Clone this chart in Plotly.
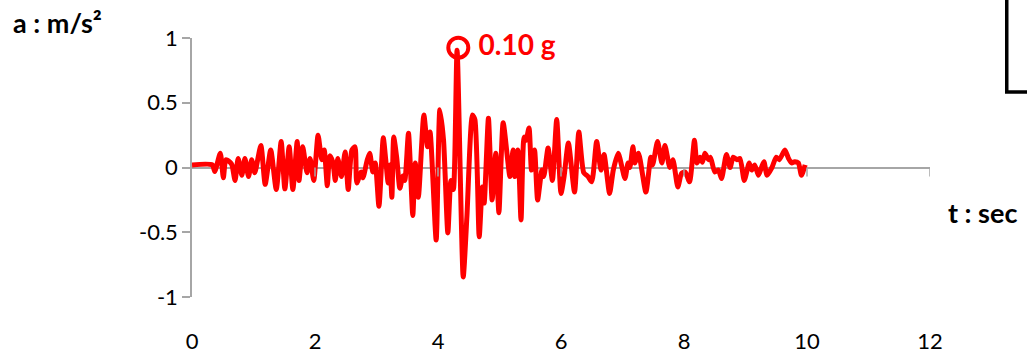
import plotly.graph_objects as go

t = [0, 0.33, 0.37, 0.46, 0.51, 0.55, 0.62, 0.65, 0.70, 0.75, 0.81, 0.86, 0.92, 0.97, 1.02,
     1.12, 1.19, 1.28, 1.37, 1.45, 1.51, 1.58, 1.64, 1.71, 1.74, 1.80, 1.87, 1.92, 1.98,
     2.05, 2.11, 2.15, 2.20, 2.24, 2.29, 2.33, 2.37, 2.43, 2.49, 2.54, 2.60, 2.65, 2.68,
     2.75, 2.78, 2.85, 2.89, 2.94, 2.98, 3.04, 3.11, 3.15, 3.19, 3.22, 3.25, 3.28, 3.33,
     3.38, 3.43, 3.46, 3.52, 3.59, 3.63, 3.68, 3.77, 3.83, 3.87, 3.97, 4.03, 4.09, 4.16,
     4.21, 4.25, 4.31, 4.41, 4.47, 4.56, 4.60, 4.67, 4.72, 4.75, 4.82, 4.88, 4.94, 4.99,
     5.06, 5.17, 5.22, 5.25, 5.30, 5.35, 5.40, 5.43, 5.48, 5.52, 5.57, 5.62, 5.69, 5.72,
     5.79, 5.86, 5.93, 6.00, 6.05, 6.12, 6.22, 6.29, 6.37, 6.44, 6.50, 6.58, 6.65, 6.70,
     6.79, 6.85, 6.93, 7.04, 7.09, 7.12, 7.17, 7.20, 7.26, 7.38, 7.46, 7.49, 7.57, 7.64,
     7.69, 7.77, 7.82, 7.90, 7.96, 8.02, 8.09, 8.17, 8.21, 8.26, 8.30, 8.34, 8.40, 8.43,
     8.50, 8.56, 8.61, 8.69, 8.75, 8.80, 8.86, 8.91, 8.98, 9.06, 9.10, 9.15, 9.21, 9.26,
     9.30, 9.35, 9.43, 9.50, 9.55, 9.64, 9.70, 9.75, 9.80, 9.86, 9.91, 9.97]
a = [0.02, 0.02, -0.03, 0.11, -0.08, 0.06, 0.04, 0.02, -0.10, 0.07, -0.06, 0.07, -0.07, 0.06, -0.04,
     0.17, -0.13, 0.135, -0.17, 0.20, -0.165, 0.16, -0.17, 0.20, -0.10, 0.16, -0.04, 0.07, -0.10,
     0.25, 0.06, 0.135, -0.14, 0.09, 0.04, -0.10, 0.07, -0.07, 0.12, -0.17, 0.135, 0.16, -0.12,
     -0.035, -0.08, 0.06, 0.11, -0.035, 0.035, -0.30, 0.23, 0.06, -0.12, 0.02, -0.23, 0.235, 0.07,
     -0.16, -0.065, -0.10, 0.265, -0.37, 0.035, -0.23, 0.405, 0.16, 0.275, -0.56, 0.445, 0.21, -0.505,
     -0.10, -0.17, 0.905, -0.845, -0.38, 0.405, 0.37, -0.535, -0.15, -0.275, 0.38, -0.25, 0.11, -0.35,
     0.345, -0.07, 0.135, -0.07, 0.135, -0.405, 0.235, 0.21, 0.305, -0.02, 0.135, -0.25, -0.02, -0.07,
     0.15, -0.10, 0.37, -0.20, -0.07, 0.19, -0.19, 0.275, -0.04, -0.07, -0.11, 0.20, -0.02, 0.10,
     -0.20, -0.02, 0.11, -0.085, 0.035, 0.0, 0.16, 0.035, 0.11, -0.19, 0.08, 0.02, 0.20, 0.035,
     0.17, 0.0, 0.06, -0.15, -0.045, -0.035, -0.11, 0.21, 0.035, 0.08, 0.04, 0.11, 0.06, 0.08,
     -0.035, -0.02, -0.085, 0.10, 0.0, 0.08, 0.06, 0.07, -0.10, 0.035, -0.02, 0.02, -0.06, 0.0,
     0.045, -0.06, 0.0, 0.08, 0.06, 0.135, 0.07, 0.035, 0.045, 0.035, -0.06, 0.02]

peak_t = [4.33]
peak_a = [0.925]
peak_label = "0.10 g"

x_ticks = [0, 2, 4, 6, 8, 10, 12]
y_ticks = [-1, -0.5, 0, 0.5, 1]
y_tick_labels = ["-1", "-0.5", "0", "0.5", "1"]

RED = "#ff0000"
GRAY = "#a6a6a6"
FONT = "Lato"

fig = go.Figure()
fig.add_trace(go.Scatter(x=t, y=a, mode="lines",
                         line=dict(color=RED, width=5, shape="spline", smoothing=0.6),
                         hoverinfo="skip", showlegend=False, cliponaxis=False))
fig.add_trace(go.Scatter(x=peak_t, y=peak_a, mode="markers+text", cliponaxis=False,
                         marker=dict(symbol="circle-open", size=20, color=RED,
                                     line=dict(width=4, color=RED)),
                         text=[" " + peak_label], textposition="middle right",
                         textfont=dict(family=FONT, size=28, color=RED, weight="bold"),
                         showlegend=False))

# x-axis tick marks on the zero line
for xv in x_ticks[1:]:
    fig.add_shape(type="line", xref="x", yref="y", x0=xv, x1=xv,
                  ysizemode="pixel", yanchor=0, y0=0, y1=-9,
                  line=dict(color=GRAY, width=1.5))

# partial box in the top-right corner
fig.add_shape(type="rect", xref="paper", yref="paper",
              x0=1.104, x1=1.16, y0=0.7915, y1=1.2,
              line=dict(color="black", width=3.5))

fig.update_layout(
    width=1027, height=357,
    margin=dict(l=192, r=97, t=38, b=60),
    paper_bgcolor="white", plot_bgcolor="white",
    font=dict(family=FONT, size=22, color="black"),
    xaxis=dict(range=[0, 12], tickvals=x_ticks, showgrid=False, zeroline=False,
               showline=False, ticks="outside", ticklen=25, automargin=False,
               tickcolor="rgba(0,0,0,0)", tickfont=dict(size=22)),
    yaxis=dict(range=[-1, 1], tickvals=y_ticks, ticktext=y_tick_labels,
               showgrid=False, zeroline=True, zerolinecolor=GRAY, zerolinewidth=1.5,
               showline=True, linecolor=GRAY, linewidth=1.5, automargin=False,
               ticks="outside", ticklen=8, tickcolor=GRAY, tickwidth=1.5,
               tickfont=dict(size=22)),
    annotations=[
        dict(text="<b>a : m/s²</b>", xref="paper", yref="paper", x=-0.1816, y=1.06,
             xanchor="center", yanchor="middle", showarrow=False,
             font=dict(family=FONT, size=27, color="black")),
        dict(text="<b>t : sec</b>", xref="paper", yref="paper", x=1.0705, y=0.328,
             xanchor="center", yanchor="middle", showarrow=False,
             font=dict(family=FONT, size=27, color="black")),
    ],
)

fig.write_html("out.html")
